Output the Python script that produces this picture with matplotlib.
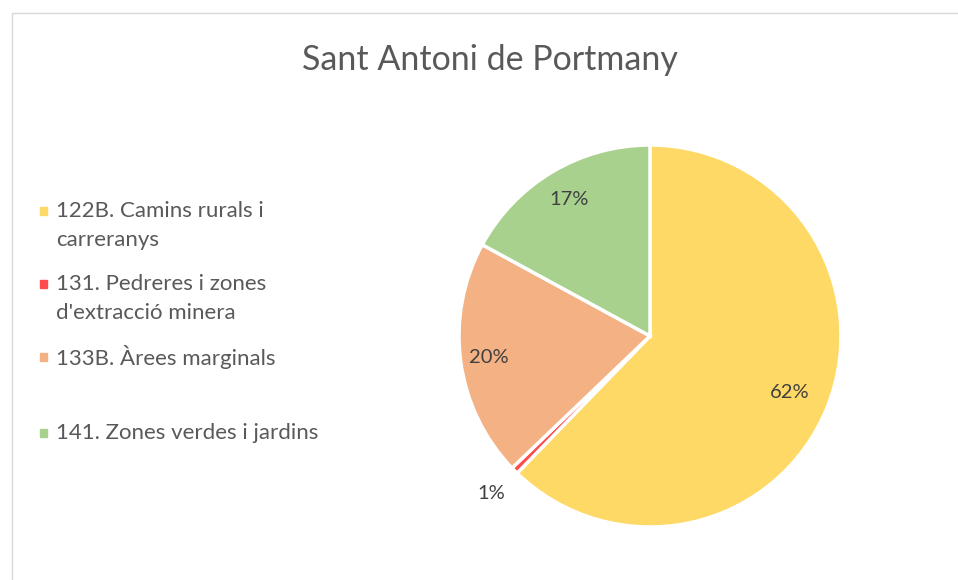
import matplotlib.pyplot as plt
import numpy as np
from matplotlib.patches import Rectangle

categories = ["122B. Camins rurals i\ncarreranys",
              "131. Pedreres i zones\nd'extracció minera",
              "133B. Àrees marginals",
              "141. Zones verdes i jardins"]
values = [62, 0.6, 20, 17]
colors = ["#FFD966", "#FF4B4B", "#F4B183", "#A9D18E"]
label_radius = [0.79, 1.17, 0.85, 0.83]
legend_y = [211, 284, 357, 433]

plt.rcParams['font.family'] = ['Lato', 'DejaVu Sans']

W, H = 958, 580
fig = plt.figure(figsize=(W / 100, H / 100), dpi=100)

# chart frame (left and top edges visible)
fig.patches.append(Rectangle((12 / W, -0.1), 1.2, 1 - 13 / H + 0.1,
                             transform=fig.transFigure, fill=False,
                             edgecolor="#D9D9D9", linewidth=1))

fig.text(490 / W, 1 - 60 / H, "Sant Antoni de Portmany", ha='center', va='center',
         fontsize=24.5, color="#595959")

cx, cy, r = 650, 336, 191
ax = fig.add_axes([(cx - r) / W, (H - cy - r) / H, 2 * r / W, 2 * r / H])
wedges, _ = ax.pie(values, colors=colors, startangle=90, counterclock=False,
                   wedgeprops=dict(edgecolor='white', linewidth=2.5))
ax.set_xlim(-1, 1)
ax.set_ylim(-1, 1)
ax.axis('off')

total = sum(values)
for w, v, lr in zip(wedges, values, label_radius):
    ang = np.deg2rad((w.theta1 + w.theta2) / 2)
    ax.text(lr * np.cos(ang), lr * np.sin(ang), f"{round(100 * v / total)}%",
            ha='center', va='center', fontsize=14.5, color="#404040")

# legend, drawn by hand (uneven gaps like the original)
for lab, c, y in zip(categories, colors, legend_y):
    fig.patches.append(Rectangle((40 / W, 1 - (y + 4) / H), 7 / W, 8 / H,
                                 transform=fig.transFigure, color=c))
    for i, line in enumerate(lab.split("\n")):
        fig.text(56 / W, 1 - (y + i * 29) / H, line, ha='left', va='center',
                 fontsize=16, color="#595959")

fig.savefig("out.png", dpi=100)
